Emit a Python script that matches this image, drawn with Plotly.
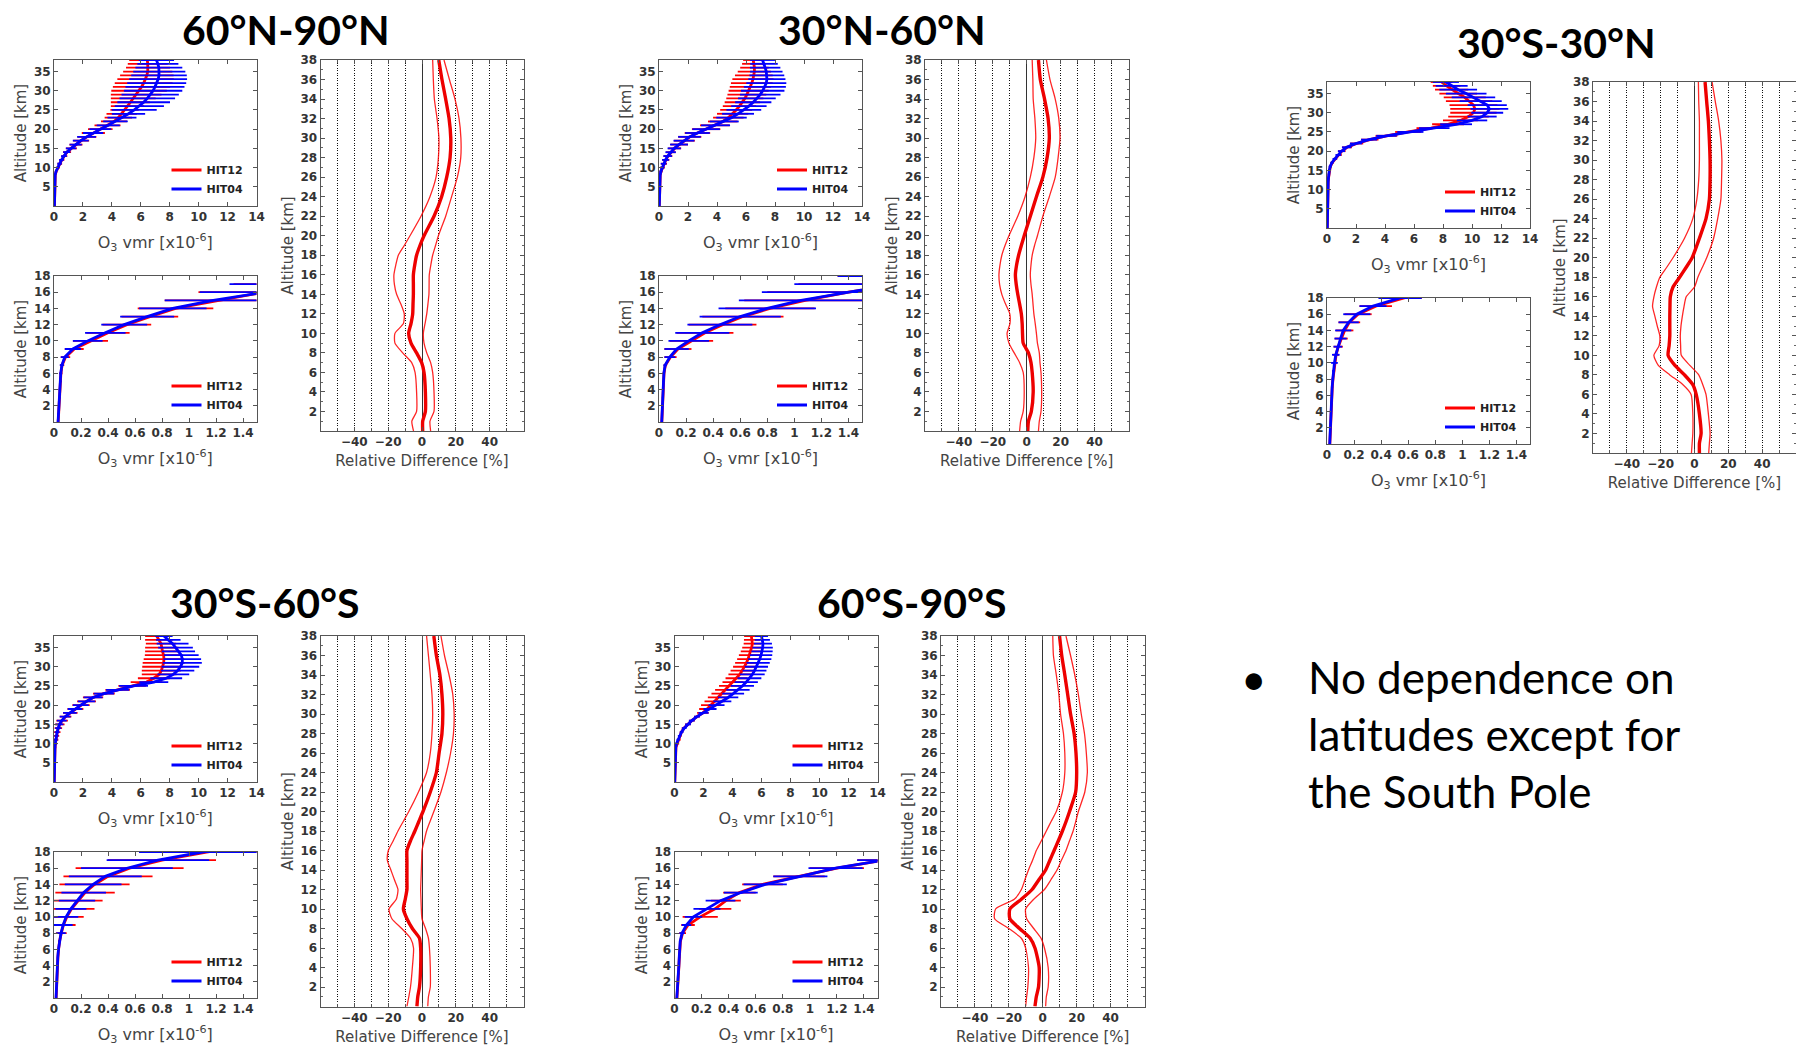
import plotly.graph_objects as go

W, H = 1796, 1048
FONT = "DejaVu Sans"
TITLE_FONT = "Lato"
RED = "#ff0000"
BLUE = "#0000ff"

# ---------------- data ----------------
Z_PROF = list(range(0, 39))  # altitude [km] of the O3 profiles
Z_DIFF = [0, 1, 2, 4, 6, 7, 8, 9, 10, 11, 12, 13, 14, 15, 16, 17, 18, 19, 20,
          22, 24, 26, 28, 30, 32, 34, 36, 38]  # altitude [km] of relative differences

TITLES = ["60°N-90°N", "30°N-60°N", "30°S-30°N", "30°S-60°S", "60°S-90°S"]
SERIES_NAMES = ["HIT12", "HIT04"]

TL_XTICKS = [0, 2, 4, 6, 8, 10, 12, 14]
TL_YTICKS = [5, 10, 15, 20, 25, 30, 35]
BL_XTICKS = [0, 0.2, 0.4, 0.6, 0.8, 1.0, 1.2, 1.4]
BL_YTICKS = [2, 4, 6, 8, 10, 12, 14, 16, 18]
RD_XTICKS = [-40, -20, 0, 20, 40]
RD_XMINOR = [-50, -30, -10, 10, 30, 50]
RD_YTICKS = list(range(2, 39, 2))

BULLET_TEXT = "No dependence on<br>latitudes except for<br>the South Pole"

# ---- 60N-90N ----
P1_H12 = [0.031, 0.034, 0.037, 0.041, 0.044, 0.047, 0.051, 0.060, 0.085, 0.15,
          0.27, 0.40, 0.54, 0.71, 0.90, 1.20, 1.52, 1.88, 2.28, 2.72,
          3.20, 3.70, 4.15, 4.45, 4.68, 4.88, 5.08, 5.28, 5.48, 5.68,
          5.88, 6.05, 6.20, 6.33, 6.42, 6.48, 6.50, 6.48, 6.45]
P1_H12_SD = [0.005, 0.006, 0.006, 0.007, 0.008, 0.009, 0.011, 0.016, 0.035, 0.07,
             0.13, 0.16, 0.18, 0.21, 0.28, 0.38, 0.45, 0.55, 0.65, 0.80,
             0.85, 0.90, 0.90, 0.95, 1.05, 0.98, 1.15, 1.35, 1.55, 1.75,
             1.92, 1.98, 2.00, 1.95, 1.85, 1.70, 1.52, 1.38, 1.25]
P1_H04 = [0.030, 0.033, 0.036, 0.040, 0.043, 0.046, 0.050, 0.058, 0.080, 0.14,
          0.25, 0.38, 0.52, 0.69, 0.88, 1.18, 1.50, 1.85, 2.25, 2.70,
          3.20, 3.75, 4.25, 4.70, 5.15, 5.55, 5.90, 6.20, 6.45, 6.65,
          6.85, 6.98, 7.10, 7.20, 7.26, 7.28, 7.25, 7.18, 7.08]
P1_H04_SD = [0.005, 0.006, 0.006, 0.007, 0.008, 0.009, 0.010, 0.015, 0.030, 0.06,
             0.11, 0.15, 0.17, 0.20, 0.25, 0.36, 0.42, 0.55, 0.65, 0.70,
             0.75, 0.80, 0.85, 1.00, 1.15, 1.55, 1.70, 1.82, 1.92, 1.98,
             2.02, 2.04, 2.04, 2.00, 1.92, 1.80, 1.62, 1.42, 1.22]
P1_DIFF = [0.4, 0.4, 2.0, 2.0, 1.2, -0.2, -3.2, -6.5, -7.9, -6.5, -5.5, -5.3, -5.1, -5.1,
           -5.1, -4.3, -3.2, -1.2, 1.2, 7.1, 11.6, 14.6, 16.6, 17.0, 16.0, 14.0, 11.8, 9.9]
P1_DIFF_LO = [-5.0, -6.0, -3.2, -3.2, -4.1, -6.1, -11.4, -16.0, -16.0, -11.0, -10.5, -12.5, -15.0, -16.3,
              -16.6, -15.5, -14.0, -10.5, -7.1, -0.6, 4.7, 8.3, 9.7, 10.0, 8.9, 7.3, 6.7, 6.3]
P1_DIFF_HI = [5.1, 4.7, 7.1, 7.1, 6.3, 5.1, 2.8, 1.2, 0.8, 1.8, 2.8, 3.5, 4.1, 4.2,
              4.3, 5.2, 6.3, 8.0, 9.7, 14.0, 17.5, 20.9, 22.9, 23.0, 21.9, 19.5, 16.2, 13.0]

# ---- 30N-60N ----
P2_H12 = [0.021, 0.023, 0.026, 0.028, 0.031, 0.033, 0.037, 0.047, 0.085, 0.14,
          0.24, 0.34, 0.47, 0.62, 0.82, 1.08, 1.40, 1.75, 2.12, 2.65,
          3.25, 3.85, 4.40, 4.78, 5.08, 5.32, 5.55, 5.75, 5.92, 6.06,
          6.18, 6.30, 6.40, 6.48, 6.54, 6.58, 6.58, 6.55, 6.50]
P2_H12_SD = [0.004, 0.005, 0.005, 0.006, 0.006, 0.007, 0.008, 0.013, 0.045, 0.10,
             0.16, 0.21, 0.25, 0.30, 0.33, 0.45, 0.60, 0.72, 0.80, 0.88,
             0.98, 1.02, 1.02, 1.05, 1.08, 1.10, 1.15, 1.22, 1.28, 1.34,
             1.38, 1.42, 1.44, 1.42, 1.30, 1.15, 0.98, 0.82, 0.70]
P2_H04 = [0.020, 0.022, 0.025, 0.027, 0.030, 0.032, 0.036, 0.045, 0.080, 0.13,
          0.22, 0.32, 0.45, 0.60, 0.80, 1.05, 1.38, 1.72, 2.10, 2.65,
          3.25, 3.90, 4.50, 5.00, 5.45, 5.85, 6.20, 6.50, 6.75, 6.98,
          7.15, 7.30, 7.40, 7.44, 7.44, 7.40, 7.32, 7.24, 7.14]
P2_H04_SD = [0.004, 0.005, 0.005, 0.006, 0.006, 0.007, 0.008, 0.012, 0.040, 0.09,
             0.15, 0.20, 0.24, 0.30, 0.36, 0.46, 0.62, 0.72, 0.78, 0.85,
             0.95, 1.00, 1.00, 1.05, 1.10, 1.20, 1.22, 1.25, 1.30, 1.40,
             1.50, 1.45, 1.38, 1.28, 1.20, 1.12, 1.05, 0.95, 0.86]
P2_DIFF = [0.6, 1.0, 2.7, 3.8, 3.2, 2.5, 1.0, -2.1, -2.5, -2.7, -3.2, -4.2, -5.3, -6.2,
           -6.7, -6.0, -4.8, -3.2, -1.5, 2.1, 5.7, 9.5, 12.0, 13.3, 12.6, 10.5, 8.0, 6.9]
P2_DIFF_LO = [-4.2, -3.6, -2.1, -1.5, -2.1, -4.2, -7.4, -10.5, -11.6, -9.9, -10.0, -12.5, -14.7, -16.0,
              -16.4, -15.8, -14.7, -12.8, -10.5, -5.3, -1.0, 2.1, 4.2, 5.3, 4.8, 3.8, 3.6, 3.2]
P2_DIFF_HI = [6.9, 7.4, 8.4, 8.8, 8.4, 7.8, 7.4, 6.3, 5.7, 5.0, 4.2, 3.7, 3.2, 2.5,
              2.1, 2.5, 3.2, 4.6, 6.3, 9.5, 13.3, 16.8, 18.5, 19.6, 18.9, 16.8, 13.7, 11.6]

# ---- 30S-30N ----
P3_H12 = [0.021, 0.023, 0.026, 0.028, 0.031, 0.033, 0.036, 0.039, 0.044, 0.050,
          0.057, 0.067, 0.083, 0.105, 0.13, 0.165, 0.23, 0.36, 0.57, 0.82,
          1.02, 1.38, 2.05, 2.95, 4.10, 5.60, 7.17, 8.35, 9.20, 9.76,
          10.1, 10.2, 10.1, 9.8, 9.5, 9.05, 8.6, 8.25, 7.9]
P3_H12_SD = [0.003, 0.003, 0.004, 0.004, 0.005, 0.005, 0.006, 0.007, 0.008, 0.010,
             0.016, 0.022, 0.034, 0.048, 0.065, 0.08, 0.10, 0.12, 0.13, 0.20,
             0.26, 0.34, 0.45, 0.60, 0.75, 0.90, 1.00, 1.10, 1.20, 1.40,
             1.60, 1.70, 1.65, 1.60, 1.45, 1.30, 1.15, 0.95, 0.75]
P3_H04 = [0.020, 0.022, 0.025, 0.027, 0.030, 0.032, 0.035, 0.038, 0.043, 0.048,
          0.055, 0.065, 0.080, 0.10, 0.12, 0.16, 0.22, 0.34, 0.54, 0.78,
          1.00, 1.35, 2.00, 2.90, 4.10, 5.75, 7.40, 8.90, 10.0, 10.7,
          11.05, 11.2, 11.05, 10.6, 10.1, 9.6, 9.05, 8.6, 8.2]
P3_H04_SD = [0.003, 0.003, 0.004, 0.004, 0.005, 0.005, 0.006, 0.007, 0.008, 0.010,
             0.025, 0.028, 0.032, 0.045, 0.06, 0.075, 0.10, 0.10, 0.16, 0.20,
             0.25, 0.32, 0.42, 0.55, 0.70, 0.90, 1.05, 1.10, 1.05, 1.00,
             1.10, 1.30, 1.35, 1.45, 1.50, 1.40, 1.30, 1.10, 0.90]
P3_DIFF = [2.9, 2.9, 3.9, 2.9, 1.0, -1.0, -5.9, -11.7, -15.6, -15.0, -14.6, -14.6, -14.6, -14.5,
           -14.3, -12.7, -8.8, -5.0, -1.4, 2.9, 6.8, 8.8, 9.2, 9.2, 8.8, 8.2, 7.2, 6.25]
P3_DIFF_LO = [-1.8, -1.4, -1.0, -1.0, -2.0, -6.8, -14.6, -21.5, -24.0, -20.9, -20.5, -22.0, -23.4, -24.8,
              -24.0, -22.5, -20.5, -16.5, -12.7, -5.9, -1.0, 1.4, 2.5, 2.9, 2.9, 2.9, 2.5, 2.3]
P3_DIFF_HI = [8.4, 8.8, 9.2, 8.2, 6.8, 4.9, 2.5, -2.9, -7.8, -8.2, -8.4, -8.0, -7.2, -6.2,
              -4.9, 0.0, 2.0, 4.6, 7.2, 11.3, 13.7, 15.6, 16.0, 16.2, 15.6, 14.3, 12.3, 10.4]

# ---- 30S-60S ----
P4_H12 = [0.016, 0.018, 0.021, 0.023, 0.026, 0.029, 0.034, 0.041, 0.054, 0.070,
          0.095, 0.13, 0.18, 0.23, 0.30, 0.40, 0.56, 0.80, 1.13, 1.48,
          1.87, 2.25, 2.70, 3.45, 4.40, 5.40, 6.40, 6.90, 7.27, 7.42,
          7.50, 7.58, 7.60, 7.58, 7.50, 7.45, 7.40, 7.25, 7.10]
P4_H12_SD = [0.003, 0.003, 0.004, 0.004, 0.005, 0.005, 0.006, 0.008, 0.040, 0.09,
             0.125, 0.17, 0.18, 0.22, 0.26, 0.33, 0.40, 0.40, 0.50, 0.55,
             0.60, 0.65, 0.70, 0.75, 0.85, 0.95, 1.10, 1.10, 1.20, 1.35,
             1.40, 1.45, 1.40, 1.30, 1.20, 1.15, 1.05, 0.95, 0.80]
P4_H04 = [0.015, 0.017, 0.020, 0.022, 0.025, 0.028, 0.033, 0.040, 0.052, 0.068,
          0.09, 0.125, 0.17, 0.22, 0.29, 0.38, 0.54, 0.77, 1.10, 1.45,
          1.85, 2.25, 2.70, 3.45, 4.40, 5.50, 6.90, 7.76, 8.25, 8.55,
          8.74, 8.87, 8.87, 8.80, 8.60, 8.40, 8.20, 7.90, 7.60]
P4_H04_SD = [0.003, 0.003, 0.004, 0.004, 0.005, 0.005, 0.006, 0.008, 0.035, 0.07,
             0.09, 0.115, 0.135, 0.165, 0.21, 0.27, 0.34, 0.38, 0.47, 0.50,
             0.55, 0.60, 0.65, 0.70, 0.80, 1.00, 1.00, 1.10, 1.10, 1.15,
             1.30, 1.35, 1.30, 1.20, 1.15, 1.20, 1.10, 0.85, 0.60]
P4_DIFF = [-3.0, -2.5, -1.5, -0.8, -0.8, -1.5, -5.7, -8.9, -11.0, -9.9, -8.9, -8.9, -8.9, -8.9,
           -8.9, -6.8, -4.2, -1.8, 0.6, 4.9, 8.5, 10.1, 11.8, 12.3, 11.8, 10.6, 8.5, 7.0]
P4_DIFF_LO = [-8.9, -7.8, -6.8, -5.7, -5.0, -6.8, -12.0, -17.8, -19.5, -15.2, -14.2, -16.3, -18.4, -20.5,
              -19.9, -17.0, -14.2, -11.0, -7.8, -2.1, 2.7, 4.9, 5.9, 6.3, 5.9, 4.9, 3.8, 2.7]
P4_DIFF_HI = [3.4, 3.8, 4.9, 4.9, 4.4, 3.8, 2.1, 0.0, -0.4, -0.6, -0.8, -0.6, -0.4, -0.2,
              0.0, 1.3, 2.7, 4.8, 7.0, 11.2, 14.4, 16.9, 18.6, 19.0, 18.2, 16.0, 13.3, 11.2]

# ---- 60S-90S ----
P5_H12 = [0.018, 0.023, 0.028, 0.031, 0.033, 0.036, 0.038, 0.044, 0.060, 0.10,
          0.19, 0.30, 0.38, 0.48, 0.65, 0.92, 1.20, 1.55, 1.96, 2.25,
          2.53, 2.77, 3.00, 3.25, 3.50, 3.77, 4.03, 4.27, 4.50, 4.67,
          4.84, 4.96, 5.07, 5.16, 5.25, 5.32, 5.37, 5.34, 5.30]
P5_H12_SD = [0.003, 0.004, 0.005, 0.005, 0.005, 0.006, 0.006, 0.007, 0.025, 0.05,
             0.13, 0.12, 0.11, 0.12, 0.15, 0.19, 0.20, 0.20, 0.40, 0.55,
             0.70, 0.70, 0.70, 0.70, 0.70, 0.70, 0.72, 0.75, 0.78, 0.80,
             0.80, 0.78, 0.75, 0.72, 0.68, 0.65, 0.60, 0.55, 0.50]
P5_H04 = [0.017, 0.022, 0.027, 0.030, 0.032, 0.035, 0.037, 0.042, 0.056, 0.088,
          0.14, 0.24, 0.34, 0.49, 0.67, 0.93, 1.19, 1.55, 2.00, 2.45,
          2.90, 3.30, 3.70, 4.05, 4.38, 4.68, 4.95, 5.17, 5.37, 5.52,
          5.65, 5.77, 5.88, 5.97, 6.04, 6.08, 6.10, 6.06, 6.00]
P5_H04_SD = [0.003, 0.004, 0.005, 0.005, 0.005, 0.006, 0.006, 0.007, 0.020, 0.035,
             0.065, 0.10, 0.11, 0.125, 0.16, 0.20, 0.20, 0.20, 0.35, 0.45,
             0.55, 0.62, 0.70, 0.75, 0.80, 0.80, 0.80, 0.82, 0.85, 0.82,
             0.80, 0.80, 0.80, 0.77, 0.73, 0.70, 0.62, 0.52, 0.45]
P5_DIFF = [-4.6, -3.8, -2.5, -2.1, -4.6, -7.4, -13.7, -19.4, -19.4, -12.6, -6.3, -2.3, 1.7, 4.2,
           6.7, 9.2, 11.6, 13.8, 15.8, 19.4, 20.0, 19.6, 18.5, 16.4, 14.7, 13.0, 11.2, 9.9]
P5_DIFF_LO = [-10.1, -9.5, -8.8, -8.4, -10.1, -12.6, -20.0, -28.4, -27.8, -16.8, -12.6, -10.5, -8.4, -6.0,
              -3.8, -0.8, 2.1, 5.0, 8.0, 11.6, 13.0, 13.0, 12.2, 10.5, 9.5, 8.0, 6.3, 5.9]
P5_DIFF_HI = [1.7, 2.1, 3.2, 3.2, 1.0, -1.0, -5.3, -9.5, -10.1, -5.3, 1.0, 4.8, 8.4, 11.0,
              13.7, 15.8, 17.9, 19.5, 21.0, 24.8, 26.3, 25.7, 24.6, 22.7, 21.0, 18.9, 16.4, 13.7]

PANELS = [
    dict(h12=P1_H12, h12sd=P1_H12_SD, h04=P1_H04, h04sd=P1_H04_SD, d=P1_DIFF, dlo=P1_DIFF_LO, dhi=P1_DIFF_HI),
    dict(h12=P2_H12, h12sd=P2_H12_SD, h04=P2_H04, h04sd=P2_H04_SD, d=P2_DIFF, dlo=P2_DIFF_LO, dhi=P2_DIFF_HI),
    dict(h12=P3_H12, h12sd=P3_H12_SD, h04=P3_H04, h04sd=P3_H04_SD, d=P3_DIFF, dlo=P3_DIFF_LO, dhi=P3_DIFF_HI),
    dict(h12=P4_H12, h12sd=P4_H12_SD, h04=P4_H04, h04sd=P4_H04_SD, d=P4_DIFF, dlo=P4_DIFF_LO, dhi=P4_DIFF_HI),
    dict(h12=P5_H12, h12sd=P5_H12_SD, h04=P5_H04, h04sd=P5_H04_SD, d=P5_DIFF, dlo=P5_DIFF_LO, dhi=P5_DIFF_HI),
]

# ---------------- layout geometry (pixels: left, right, top, bottom) ----------------
BOXES = [
    dict(tl=(54, 256.5, 60, 206), bl=(54, 256.5, 276, 422), r=(320.5, 523.5, 60, 431), title=(286, 29)),
    dict(tl=(659, 862, 60, 206), bl=(659, 862, 276, 422), r=(925, 1128.5, 60, 431), title=(882, 30)),
    dict(tl=(1327, 1530, 82, 228), bl=(1327, 1530, 298, 444), r=(1593, 1796, 82, 453), title=(1556, 43)),
    dict(tl=(54, 256.5, 636, 782), bl=(54, 256.5, 852, 998), r=(320.5, 523.5, 636, 1006.5), title=(264, 602)),
    dict(tl=(674.5, 877.5, 636, 782), bl=(674.5, 877.5, 852, 998), r=(941, 1144.5, 636, 1006.5), title=(911, 602)),
]

TICKFONT = dict(family=FONT, size=12, color="#333333", weight="bold")
AXTITLEFONT = dict(family=FONT, size=15, color="#444444")
XTITLEFONT = dict(family=FONT, size=16, color="#444444")
X_TITLE = "O<sub>3</sub> vmr [x10<sup>-6</sup>]"
Y_TITLE = "Altitude [km]"
RD_TITLE = "Relative Difference [%]"
GRID_DASH = "1px,1.5px"


def axname(i, kind):
    return kind if i == 1 else f"{kind}{i}"


def base_axis(domain, anchor):
    return dict(domain=domain, anchor=anchor, showline=True, linecolor="#555555", linewidth=1,
                mirror="ticks", ticks="inside", ticklen=4, tickwidth=1, tickcolor="#555555",
                tickfont=TICKFONT, showgrid=False, zeroline=False, automargin=False,
                fixedrange=True)


fig = go.Figure()
layout = dict(width=W, height=H, margin=dict(l=0, r=0, t=0, b=0), template="none",
              paper_bgcolor="white", plot_bgcolor="white", showlegend=True,
              annotations=[])

for p in range(5):
    box = BOXES[p]
    dat = PANELS[p]
    for k, key in enumerate(["tl", "bl"]):
        ai = 3 * p + k + 1
        xa, ya = axname(ai, "x"), axname(ai, "y")
        li = 2 * p + k + 1
        lg = "legend" if li == 1 else f"legend{li}"
        for name, mean, sd, col in [(SERIES_NAMES[0], dat["h12"], dat["h12sd"], RED),
                                    (SERIES_NAMES[1], dat["h04"], dat["h04sd"], BLUE)]:
            fig.add_trace(go.Scatter(
                x=mean, y=Z_PROF, mode="markers", marker=dict(size=1, opacity=0),
                error_x=dict(type="data", array=sd, symmetric=True, color=col, thickness=1.8, width=0),
                xaxis=xa, yaxis=ya, showlegend=False, hoverinfo="skip"))
            fig.add_trace(go.Scatter(
                x=mean, y=Z_PROF, mode="lines", line=dict(color=col, width=2.8),
                name=name, legend=lg, xaxis=xa, yaxis=ya, showlegend=True))
        l, r, t, b = box[key]
        xd = [l / W, r / W]
        yd = [1 - b / H, 1 - t / H]
        xax = base_axis(xd, ya)
        yax = base_axis(yd, xa)
        if key == "tl":
            xax.update(range=[0, 14], tickmode="array", tickvals=TL_XTICKS)
            yax.update(range=[0, 38], tickmode="array", tickvals=TL_YTICKS)
        else:
            xax.update(range=[0, 1.5], tickmode="array", tickvals=BL_XTICKS)
            yax.update(range=[0, 18], tickmode="array", tickvals=BL_YTICKS)
        xax["title"] = dict(text=X_TITLE, font=XTITLEFONT, standoff=13)
        yax["title"] = dict(text=Y_TITLE, font=AXTITLEFONT, standoff=3)
        layout[axname(ai, "xaxis")] = xax
        layout[axname(ai, "yaxis")] = yax
        layout[lg] = dict(x=(r - 90) / W, xanchor="left", y=1 - (b - 26.5) / H, yanchor="middle",
                          bgcolor="rgba(0,0,0,0)", borderwidth=0, itemwidth=30,
                          tracegroupgap=0, traceorder="normal",
                          font=dict(family=FONT, size=11, color="#222222", weight="bold"))

    # relative difference subplot
    ai = 3 * p + 3
    xa, ya = axname(ai, "x"), axname(ai, "y")
    for vals, wdt, col in [(dat["dlo"], 1.3, "rgba(255,0,0,0.85)"),
                           (dat["dhi"], 1.3, "rgba(255,0,0,0.85)"),
                           (dat["d"], 3.4, "#ee0000")]:
        fig.add_trace(go.Scatter(
            x=vals, y=Z_DIFF, mode="lines", line=dict(color=col, width=wdt, shape="spline", smoothing=0.6),
            xaxis=xa, yaxis=ya, showlegend=False, hoverinfo="skip"))
    l, r, t, b = box["r"]
    xax = base_axis([l / W, min(r / W, 1.0)], ya)
    yax = base_axis([1 - b / H, 1 - t / H], xa)
    xax.update(range=[-60, 60], tickmode="array", tickvals=RD_XTICKS,
               showgrid=True, gridcolor="#111111", griddash=GRID_DASH, gridwidth=1,
               zeroline=True, zerolinecolor="#333333", zerolinewidth=1.3,
               minor=dict(tickmode="array", tickvals=RD_XMINOR, ticks="inside", ticklen=3,
                          tickcolor="#555555", showgrid=True, gridcolor="#111111",
                          griddash=GRID_DASH, gridwidth=1),
               title=dict(text=RD_TITLE, font=AXTITLEFONT, standoff=7))
    yax.update(range=[0, 38], tickmode="array", tickvals=RD_YTICKS,
               minor=dict(tickmode="linear", tick0=0, dtick=1, ticks="inside", ticklen=2,
                          tickcolor="#666666"),
               title=dict(text=Y_TITLE, font=AXTITLEFONT, standoff=3))
    layout[axname(ai, "xaxis")] = xax
    layout[axname(ai, "yaxis")] = yax

    cx, cy = box["title"]
    layout["annotations"].append(dict(
        text=TITLES[p], x=cx / W, y=1 - cy / H, xref="paper", yref="paper",
        xanchor="center", yanchor="middle", showarrow=False,
        font=dict(family=TITLE_FONT, size=41, color="black", weight="bold")))

# bullet text
layout["annotations"].append(dict(
    text="•", x=1254 / W, y=1 - 678 / H, xref="paper", yref="paper",
    xanchor="center", yanchor="middle", showarrow=False,
    font=dict(family=TITLE_FONT, size=44, color="black")))
layout["annotations"].append(dict(
    text=BULLET_TEXT, x=1306 / W, y=1 - 734 / H, xref="paper", yref="paper",
    xanchor="left", yanchor="middle", align="left", showarrow=False,
    font=dict(family=TITLE_FONT, size=44, color="black")))

fig.update_layout(**layout)
fig.write_html("out.html")
